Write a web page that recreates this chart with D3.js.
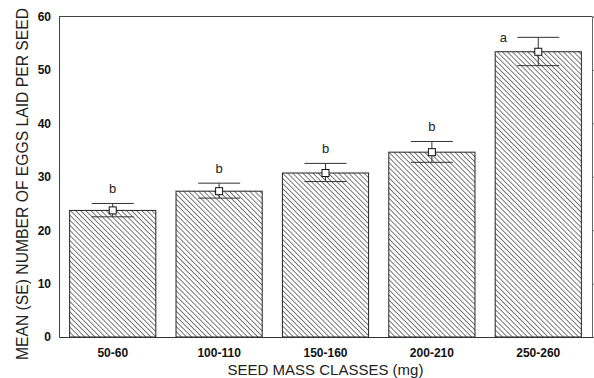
<!DOCTYPE html>
<html>
<head>
<meta charset="utf-8">
<script src="https://cdn.jsdelivr.net/npm/d3@7"></script>
<style>
  body { margin: 0; background: #fff; }
  svg { display: block; font-family: "Liberation Sans", Arial, sans-serif; }
</style>
</head>
<body>
<svg id="chart" width="594" height="378"></svg>
<script>
// data
const classes = ['50-60', '100-110', '150-160', '200-210', '250-260'];
const means = [23.7, 27.3, 30.7, 34.6, 53.4];
const seHigh = [25.0, 28.8, 32.5, 36.6, 56.1];
const seLow = [22.5, 26.0, 29.1, 32.7, 50.8];
const letters = ['b', 'b', 'b', 'b', 'a'];
const yTicks = [0, 10, 20, 30, 40, 50, 60];

const margin = { top: 16.5, right: 2, bottom: 41, left: 59 };
const width = 594 - margin.left - margin.right;
const height = 378 - margin.top - margin.bottom;

const svg = d3.select('#chart');

// hatch pattern
const defs = svg.append('defs');
const pat = defs.append('pattern')
    .attr('id', 'hatch')
    .attr('patternUnits', 'userSpaceOnUse')
    .attr('width', 3.6)
    .attr('height', 3.6)
    .attr('patternTransform', 'rotate(-45)');
pat.append('rect').attr('width', 3.6).attr('height', 3.6).attr('fill', '#fff');
pat.append('line')
    .attr('x1', 0).attr('y1', 0).attr('x2', 0).attr('y2', 3.6)
    .attr('stroke', '#333')
    .attr('stroke-width', 1.3);

const g = svg.append('g')
    .attr('transform', `translate(${margin.left},${margin.top})`);

const x = d3.scaleBand().domain(classes).range([0, width]).paddingInner(0.19).paddingOuter(0.1);
const y = d3.scaleLinear().domain([0, 60]).range([height, 0]);

// bars
g.selectAll('.bar')
    .data(classes)
    .enter()
    .append('rect')
    .attr('class', 'bar')
    .attr('x', d => x(d))
    .attr('y', (d, i) => y(means[i]))
    .attr('width', x.bandwidth())
    .attr('height', (d, i) => y(0) - y(means[i]))
    .attr('fill', 'url(#hatch)')
    .attr('stroke', '#222')
    .attr('stroke-width', 1);

// error bars
const capW = 42;
const eb = g.selectAll('.eb')
    .data(classes)
    .enter()
    .append('g')
    .attr('class', 'eb')
    .attr('transform', d => `translate(${x(d) + x.bandwidth() / 2},0)`);

eb.append('line')
    .attr('x1', 0).attr('x2', 0)
    .attr('y1', (d, i) => y(seHigh[i]))
    .attr('y2', (d, i) => y(seLow[i]))
    .attr('stroke', '#333');
eb.append('line')
    .attr('x1', -capW / 2).attr('x2', capW / 2)
    .attr('y1', (d, i) => y(seHigh[i]))
    .attr('y2', (d, i) => y(seHigh[i]))
    .attr('stroke', '#333');
eb.append('line')
    .attr('x1', -capW / 2).attr('x2', capW / 2)
    .attr('y1', (d, i) => y(seLow[i]))
    .attr('y2', (d, i) => y(seLow[i]))
    .attr('stroke', '#333');
eb.append('rect')
    .attr('x', -3.5).attr('width', 7).attr('height', 7)
    .attr('y', (d, i) => y(means[i]) - 3.5)
    .attr('fill', '#fff')
    .attr('stroke', '#111')
    .attr('stroke-width', 1);

// significance letters: 'a' sits to the left of its error bar
eb.append('text')
    .attr('x', (d, i) => letters[i] === 'a' ? -35 : 0)
    .attr('y', (d, i) => letters[i] === 'a' ? y(seHigh[i]) + 5 : y(seHigh[i]) - 10)
    .attr('text-anchor', 'middle')
    .attr('font-size', 13)
    .attr('fill', '#222')
    .text((d, i) => letters[i]);

// axes
const yAxis = g.append('g')
    .call(d3.axisLeft(y).tickValues(yTicks).tickSize(0).tickPadding(8));
yAxis.select('.domain').attr('stroke', '#444');
yAxis.selectAll('text').attr('font-size', 12).attr('font-weight', 'bold').attr('fill', '#111')
    .attr('font-family', '"Liberation Sans", Arial, sans-serif');

const yAxisR = g.append('g')
    .attr('transform', `translate(${width},0)`)
    .call(d3.axisRight(y).tickValues(yTicks).tickSize(3).tickFormat(''));
yAxisR.selectAll('path, line').attr('stroke', '#666');

const xAxis = g.append('g')
    .attr('transform', `translate(0,${height})`)
    .call(d3.axisBottom(x).tickSize(0).tickPadding(11));
xAxis.select('.domain').attr('stroke', '#333');
xAxis.selectAll('text').attr('font-size', 12).attr('font-weight', 'bold').attr('fill', '#111')
    .attr('font-family', '"Liberation Sans", Arial, sans-serif');

// top frame line
g.append('line')
    .attr('x1', 0).attr('x2', width)
    .attr('y1', 0).attr('y2', 0)
    .attr('stroke', '#444');

// titles
svg.append('text')
    .attr('transform', 'translate(28,184) rotate(-90)')
    .attr('text-anchor', 'middle')
    .attr('font-size', 15.7)
    .attr('fill', '#222')
    .text('MEAN (SE) NUMBER OF EGGS LAID PER SEED');

svg.append('text')
    .attr('x', margin.left + width / 2)
    .attr('y', 375)
    .attr('text-anchor', 'middle')
    .attr('font-size', 15)
    .attr('fill', '#222')
    .text('SEED MASS CLASSES (mg)');
</script>
</body>
</html>
